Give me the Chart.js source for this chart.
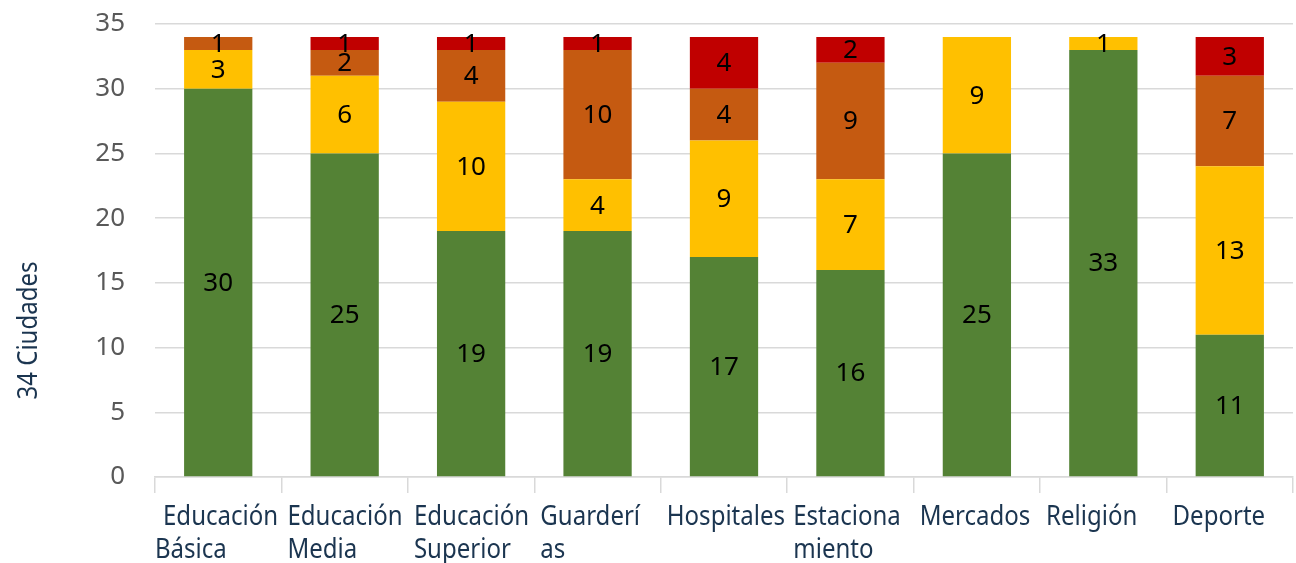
<!DOCTYPE html>
<html><head><meta charset="utf-8">
<script src="https://cdn.jsdelivr.net/npm/chart.js@4/dist/chart.umd.min.js"></script>
<style>html,body{margin:0;padding:0;background:#fff;}</style>
</head><body>
<canvas id="c" width="1296" height="563" style="width:1296px;height:563px;display:block"></canvas>
<script>
// ---- data ----
const categories = [[' Educación','Básica'], ['Educación','Media'], ['Educación','Superior'], ['Guarderí','as'], ['Hospitales'], ['Estaciona','miento'], ['Mercados'], ['Religión'], ['Deporte']];
const seriesNames = ['Verde', 'Amarillo', 'Naranja', 'Rojo'];
const greenValues  = [30, 25, 19, 19, 17, 16, 25, 33, 11];
const yellowValues = [3, 6, 10, 4, 9, 7, 9, 1, 13];
const orangeValues = [1, 2, 4, 10, 4, 9, 0, 0, 7];
const redValues    = [0, 1, 1, 1, 4, 2, 0, 0, 3];
const yTickValues  = [0, 5, 10, 15, 20, 25, 30, 35];
const yTitle = '34 Ciudades';

const LABEL_FONT = "'Noto Sans','DejaVu Sans',sans-serif";
const NUM_FONT = "'Noto Sans','DejaVu Sans',sans-serif";
const NAVY = '#1B3550';
const colors = ['#548235', '#FFC000', '#C55A11', '#C00000'];
const seriesValues = [greenValues, yellowValues, orangeValues, redValues];
const SQUEEZE = 0.89;

const valueLabels = {
  id: 'valueLabels',
  afterDatasetsDraw(chart) {
    const ctx = chart.ctx;
    ctx.save();
    ctx.font = '26px ' + NUM_FONT;
    ctx.fillStyle = '#000';
    ctx.textAlign = 'center';
    ctx.textBaseline = 'middle';
    chart.data.datasets.forEach((ds, di) => {
      const meta = chart.getDatasetMeta(di);
      meta.data.forEach((el, i) => {
        const v = ds.data[i];
        if (!v) return;
        const p = el.getProps(['x', 'y', 'base'], true);
        ctx.fillText(String(v), p.x, (p.y + p.base) / 2 + 1);
      });
    });
    ctx.restore();
  }
};

const axisTexts = {
  id: 'axisTexts',
  afterDraw(chart) {
    const ctx = chart.ctx;
    const xs = chart.scales.x;
    const ys = chart.scales.y;
    ctx.fillStyle = NAVY;
    ctx.font = '27px ' + LABEL_FONT;
    ctx.textBaseline = 'alphabetic';
    const half = (xs.getPixelForValue(1) - xs.getPixelForValue(0)) / 2;
    categories.forEach((lines, i) => {
      const lead = lines[0].startsWith(' ');
      const left = xs.getPixelForValue(i) - half + (lead ? 0 : 6);
      lines.forEach((t, li) => {
        const tt = t.trim();
        const x = left + (t.startsWith(' ') ? 8 : 0);
        ctx.save();
        ctx.translate(x, 525 + li * 33);
        ctx.scale(SQUEEZE, 1);
        ctx.textAlign = 'left';
        ctx.fillText(tt, 0, 0);
        ctx.restore();
      });
    });
    // y title
    ctx.save();
    ctx.translate(37, (ys.top + ys.bottom) / 2 + 80);
    ctx.rotate(-Math.PI / 2);
    ctx.scale(SQUEEZE, 1);
    ctx.textAlign = 'center';
    ctx.fillText(yTitle, 0, 0);
    ctx.restore();
  }
};

new Chart(document.getElementById('c'), {
  type: 'bar',
  data: {
    labels: categories.map(c => c.join(' ').trim()),
    datasets: seriesNames.map((n, i) => ({
      label: n,
      data: seriesValues[i],
      backgroundColor: colors[i],
      borderWidth: 0,
      categoryPercentage: 1,
      barPercentage: 0.54
    }))
  },
  options: {
    responsive: false,
    animation: false,
    devicePixelRatio: 1,
    layout: { padding: { top: 24, right: 3, left: 0, bottom: 0 } },
    plugins: { legend: { display: false }, tooltip: { enabled: false } },
    scales: {
      x: {
        stacked: true,
        grid: { offset: true, drawOnChartArea: false, drawTicks: true, tickLength: 16, color: '#D9D9D9', lineWidth: 1.5 },
        border: { display: true, color: '#D9D9D9', width: 1.5 },
        ticks: { display: false },
        afterFit(s) { s.height = 86; s.paddingLeft = 0; s.paddingRight = 0; }
      },
      y: {
        stacked: true,
        min: yTickValues[0],
        max: yTickValues[yTickValues.length - 1],
        afterBuildTicks(s) { s.ticks = yTickValues.map(v => ({ value: v })); },
        grid: { color: '#D9D9D9', lineWidth: 1.5, drawTicks: false },
        border: { display: false },
        ticks: { color: '#595959', padding: 30, font: { family: NUM_FONT, size: 26 } },
        afterFit(s) { s.width = 155; s.paddingTop = 0; s.paddingBottom = 0; }
      }
    }
  },
  plugins: [valueLabels, axisTexts]
});
</script>
</body></html>
